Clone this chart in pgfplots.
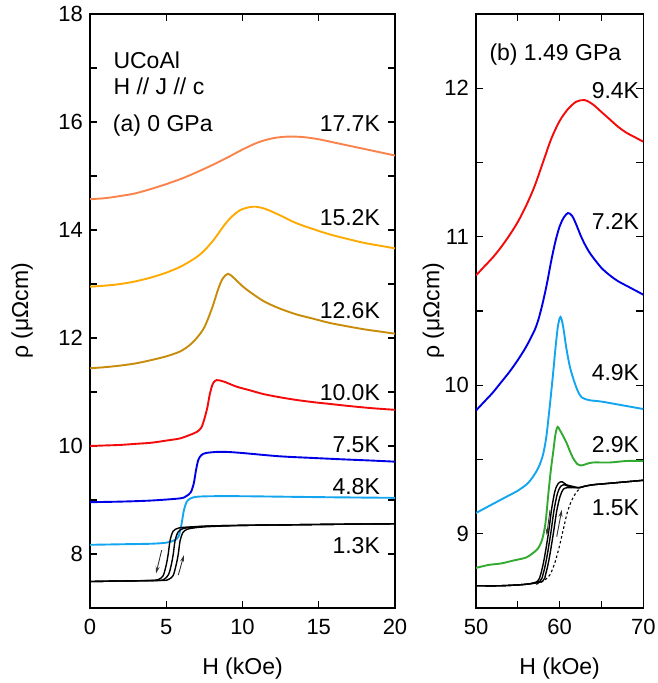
\documentclass[border=0pt]{standalone}
\usepackage{pgfplots}
\pgfplotsset{compat=1.18}
\usepackage{fontspec}
\setmainfont{Liberation Sans}
\usetikzlibrary{arrows.meta}
\definecolor{cA}{RGB}{250,130,75}
\definecolor{cB}{RGB}{255,170,0}
\definecolor{cC}{RGB}{200,140,10}
\definecolor{cD}{RGB}{245,10,10}
\definecolor{cE}{RGB}{0,0,230}
\definecolor{cF}{RGB}{20,165,240}
\definecolor{cG}{RGB}{50,170,50}
\tikzset{lbl/.style={inner sep=0pt, font=\fontsize{23}{27}\selectfont},
  arr/.style={-{Stealth[length=7pt,width=4pt]}, line width=0.9pt, black!80}}
\pgfplotsset{myax/.style={
  scale only axis, height=594pt,
  axis line style={line width=1.2pt},
  every tick/.style={line width=1.2pt, black},
  tick align=inside, major tick length=7pt, minor tick length=7pt,
  tick label style={font=\fontsize{22}{26}\selectfont},
  label style={font=\fontsize{23}{27}\selectfont},
  /pgf/number format/assume math mode=true,
  xticklabel style={anchor=north, inner sep=0pt, yshift=-11pt},
  yticklabel style={anchor=east, inner sep=0pt, xshift=-7pt},
  xlabel style={at={(axis description cs:0.5,-0.1112)}, anchor=base},
  every axis plot/.append style={smooth, line width=1.9pt, no marks},
}}
\begin{document}
\begin{tikzpicture}[x=1pt,y=1pt]
\useasboundingbox (0,0) rectangle (657,683);
% ---------------- (a) 0 GPa
\begin{axis}[myax, at={(90pt,75pt)}, anchor=south west, width=305pt,
  xmin=0, xmax=20, ymin=7, ymax=18,
  xtick={0,5,10,15,20}, ytick={8,10,12,14,16,18}, minor ytick={7,9,11,13,15,17},
  xlabel={H (kOe)}, ylabel={ρ (μΩcm)},
  ylabel style={at={(axis description cs:-0.203,0.5)}, anchor=base, rotate=0}]
\addplot[cA] coordinates {(0,14.57)(1,14.59)(2,14.63)(3,14.68)(4,14.76)(5,14.85)(6,14.95)(7,15.07)(8,15.2)(9,15.34)(10,15.49)(11,15.62)(12,15.70)(13,15.73)(14,15.72)(15,15.68)(16,15.62)(17,15.56)(18,15.50)(19,15.44)(20,15.38)};
\addplot[cB] coordinates {(0,12.95)(1,12.97)(2,13.0)(3,13.05)(4,13.12)(5,13.21)(6,13.33)(7,13.5)(7.6,13.65)(8.2,13.85)(8.7,14.05)(9.2,14.22)(9.8,14.36)(10.4,14.42)(10.9,14.43)(11.5,14.39)(12.4,14.28)(13.5,14.13)(14.6,14.02)(15.7,13.92)(16.8,13.84)(18,13.76)(19,13.71)(20,13.66)};
\addplot[cC] coordinates {(0,11.44)(1,11.46)(2,11.49)(3,11.53)(4,11.59)(5,11.66)(5.9,11.75)(6.5,11.86)(7.0,12.0)(7.5,12.2)(8.0,12.55)(8.4,12.9)(8.7,13.1)(9.05,13.19)(9.4,13.12)(10.0,12.96)(10.5,12.85)(11.4,12.68)(12.4,12.55)(13.5,12.44)(14.6,12.36)(15.7,12.28)(16.8,12.22)(18,12.16)(19,12.12)(20,12.08)};
\addplot[cD] coordinates {(0,10.0)(1,10.01)(2,10.02)(3,10.04)(4,10.06)(5,10.1)(5.9,10.14)(6.5,10.2)(7.0,10.26)(7.3,10.34)(7.5,10.5)(7.7,10.72)(7.85,10.95)(8.05,11.15)(8.3,11.22)(8.8,11.19)(9.6,11.1)(10.5,11.03)(11.4,10.96)(12.5,10.9)(13.6,10.85)(14.7,10.81)(15.7,10.78)(17,10.74)(18.5,10.7)(20,10.67)};
\addplot[cE] coordinates {(0,8.96)(2,8.97)(4,8.99)(5.9,9.03)(6.3,9.07)(6.6,9.14)(6.8,9.3)(6.95,9.55)(7.1,9.74)(7.3,9.83)(7.6,9.87)(8.3,9.89)(9,9.89)(10,9.87)(12.4,9.81)(14.5,9.78)(16.8,9.75)(18.5,9.73)(20,9.71)};
\addplot[cF] coordinates {(0,8.17)(2,8.18)(4,8.19)(5,8.21)(5.5,8.25)(5.8,8.32)(6.0,8.55)(6.15,8.8)(6.35,8.97)(6.6,9.03)(7,9.06)(8,9.07)(10,9.07)(13,9.06)(16,9.05)(20,9.04)};
\addplot[black, line width=1.4pt] coordinates {(0,7.49)(2,7.5)(4,7.51)(4.5,7.53)(4.8,7.6)(5.0,7.8)(5.13,8.0)(5.25,8.25)(5.45,8.42)(5.8,8.48)(6.5,8.5)(8,8.52)(10,8.53)(13,8.54)(16,8.55)(20,8.56)};
\addplot[black, line width=1.4pt] coordinates {(0,7.49)(2,7.5)(4.4,7.51)(4.85,7.53)(5.15,7.62)(5.33,7.8)(5.46,8.0)(5.58,8.25)(5.78,8.41)(6.1,8.47)(6.8,8.5)(8,8.52)(10,8.53)(13,8.54)(16,8.55)(20,8.56)};
\addplot[black, line width=1.4pt] coordinates {(0,7.49)(2,7.5)(4.7,7.51)(5.15,7.53)(5.45,7.6)(5.65,7.8)(5.79,8.0)(5.91,8.25)(6.1,8.4)(6.4,8.46)(7,8.49)(8,8.51)(10,8.53)(13,8.54)(16,8.55)(20,8.56)};
\draw[arr] (axis cs:4.70,8.07) -- (axis cs:4.33,7.64);
\draw[arr] (axis cs:5.79,7.61) -- (axis cs:6.16,7.98);
\node[lbl, anchor=base west] at (axis cs:1.53,16.99) {UCoAl};
\node[lbl, anchor=base west] at (axis cs:1.53,16.51) {H // J // c};
\node[lbl, anchor=base west] at (axis cs:1.49,15.82) {(a) 0 GPa};
\node[lbl, anchor=base east] at (axis cs:19.02,15.82) {17.7K};
\node[lbl, anchor=base east] at (axis cs:19.02,14.09) {15.2K};
\node[lbl, anchor=base east] at (axis cs:19.02,12.36) {12.6K};
\node[lbl, anchor=base east] at (axis cs:19.02,10.85) {10.0K};
\node[lbl, anchor=base east] at (axis cs:19.02,9.88) {7.5K};
\node[lbl, anchor=base east] at (axis cs:19.02,9.11) {4.8K};
\node[lbl, anchor=base east] at (axis cs:19.02,8.01) {1.3K};
\end{axis}
% ---------------- (b) 1.49 GPa
\begin{axis}[myax, at={(476pt,75pt)}, anchor=south west, width=167.3pt,
  xmin=50, xmax=70, ymin=8.5, ymax=12.5,
  xtick={50,60,70}, minor xtick={55,65}, ytick={9,10,11,12}, minor ytick={9.5,10.5,11.5},
  xlabel={H (kOe)}, ylabel={ρ (μΩcm)},
  ylabel style={at={(axis description cs:-0.219,0.5)}, anchor=base, rotate=0}]
\addplot[cD] coordinates {(50,10.74)(51,10.80)(52,10.86)(53,10.93)(54,11.01)(55,11.10)(56,11.21)(57,11.34)(58,11.50)(59,11.66)(60,11.78)(61,11.86)(62,11.91)(63,11.92)(64,11.89)(65,11.84)(66,11.79)(67,11.74)(68,11.70)(69,11.67)(70,11.64)};
\addplot[cE] coordinates {(50,9.83)(51,9.89)(52,9.95)(53,10.02)(54,10.09)(55,10.17)(56,10.26)(57,10.37)(57.5,10.45)(58,10.56)(58.5,10.69)(59,10.84)(59.5,10.97)(60,11.07)(60.5,11.13)(61,11.16)(61.5,11.14)(62,11.08)(62.5,11.01)(63,10.95)(63.5,10.90)(64,10.86)(65,10.79)(66,10.74)(67,10.70)(68,10.67)(69,10.64)(70,10.61)};
\addplot[cF] coordinates {(50,9.14)(51,9.17)(52,9.2)(53,9.23)(54,9.26)(55,9.29)(56,9.33)(56.5,9.36)(57,9.40)(57.5,9.45)(58,9.53)(58.4,9.65)(58.8,9.85)(59.2,10.07)(59.5,10.25)(59.8,10.4)(60.1,10.46)(60.4,10.4)(60.8,10.25)(61.2,10.13)(61.6,10.05)(62.1,9.97)(62.6,9.92)(63.5,9.9)(65,9.89)(67,9.87)(70,9.84)};
\addplot[cG] coordinates {(50,8.77)(51.5,8.79)(53,8.80)(54.5,8.82)(56,8.84)(56.8,8.87)(57.4,8.9)(57.9,8.96)(58.3,9.07)(58.65,9.27)(58.95,9.43)(59.25,9.56)(59.5,9.67)(59.75,9.72)(60.0,9.70)(60.4,9.66)(60.84,9.61)(61.2,9.56)(61.6,9.51)(62.1,9.47)(62.6,9.46)(63.2,9.47)(64,9.48)(66,9.48)(68,9.49)(70,9.49)};
\addplot[black, line width=1.4pt] coordinates {(50,8.65)(53,8.65)(56,8.66)(57.35,8.68)(57.75,8.73)(58.15,8.83)(58.65,9.0)(59.05,9.17)(59.45,9.29)(59.85,9.34)(60.3,9.35)(60.8,9.33)(61.5,9.32)(62.3,9.31)(63,9.32)(64,9.33)(66,9.34)(68,9.35)(70,9.36)};
\addplot[black, line width=1.4pt] coordinates {(50,8.65)(53,8.65)(56,8.66)(57.63,8.68)(58.03,8.73)(58.43,8.83)(58.93,9.0)(59.33,9.16)(59.73,9.27)(60.13,9.32)(60.6,9.33)(61,9.32)(61.5,9.315)(62.3,9.31)(63,9.32)(64,9.33)(66,9.34)(68,9.35)(70,9.36)};
\addplot[black, line width=1.4pt] coordinates {(50,8.65)(53,8.65)(56,8.66)(57.94,8.68)(58.34,8.73)(58.74,8.83)(59.24,9.0)(59.64,9.15)(60.04,9.25)(60.44,9.3)(60.9,9.31)(61.5,9.31)(62.3,9.31)(63,9.32)(64,9.33)(66,9.34)(68,9.35)(70,9.36)};
\addplot[black, line width=1.1pt, dash pattern=on 2.5pt off 2.5pt] coordinates {(57.2,8.66)(58,8.68)(58.8,8.72)(59.4,8.8)(59.9,8.9)(60.4,9.02)(60.9,9.14)(61.4,9.22)(62,9.28)(62.5,9.31)};
\draw[arr] (axis cs:58.85,9.16) -- (axis cs:58.45,8.99);
\draw[arr] (axis cs:59.65,8.98) -- (axis cs:60.25,9.16);
\node[lbl, anchor=base west] at (axis cs:51.59,12.19) {(b) 1.49 GPa};
\node[lbl, anchor=base east] at (axis cs:69.52,11.93) {9.4K};
\node[lbl, anchor=base east] at (axis cs:69.52,11.05) {7.2K};
\node[lbl, anchor=base east] at (axis cs:69.52,10.03) {4.9K};
\node[lbl, anchor=base east] at (axis cs:69.52,9.55) {2.9K};
\node[lbl, anchor=base east] at (axis cs:69.52,9.12) {1.5K};
\end{axis}
\end{tikzpicture}
\end{document}
